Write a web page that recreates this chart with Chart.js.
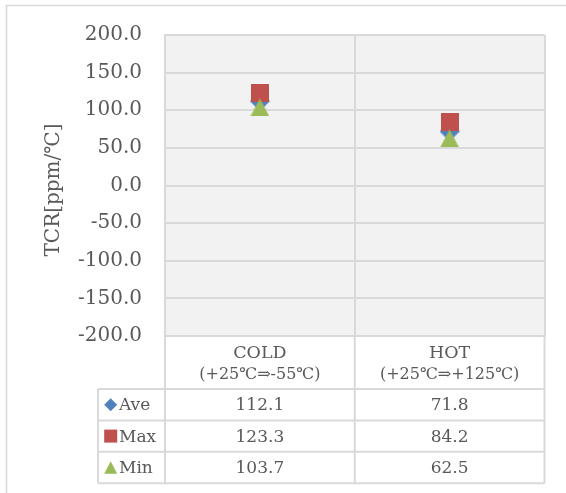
<!DOCTYPE html>
<html>
<head>
<meta charset="utf-8">
<script src="https://cdn.jsdelivr.net/npm/chart.js@4.4.1/dist/chart.umd.min.js"></script>
<style>
  html, body { margin: 0; padding: 0; background: #ffffff; }
  #wrap { width: 566px; height: 493px; overflow: hidden; }
</style>
</head>
<body>
<div id="wrap"><canvas id="chart" width="566" height="493"></canvas></div>
<script>
// Temperature coefficient of resistance per test range
const categories = ['COLD', 'HOT'];
const categoryRanges = ['(+25\u2103\u21D2-55\u2103)', '(+25\u2103\u21D2+125\u2103)'];
const seriesNames = ['Ave', 'Max', 'Min'];
const aveValues = [112.1, 71.8];
const maxValues = [123.3, 84.2];
const minValues = [103.7, 62.5];
const yMin = -200;
const yMax = 200;
const yStep = 50;
const yTitle = 'TCR[ppm/\u2103]';

const seriesColors = ['#4f81bd', '#c0504d', '#9bbb59'];
const seriesShapes = ['diamond', 'square', 'triangle'];
const seriesValues = [aveValues, maxValues, minValues];

const FONT = '"DejaVu Serif", "Liberation Serif", serif';
const TEXT = '#595959';
const LINE = '#d9d9d9';

function tracePath(ctx, shape, cx, cy, w, h) {
  ctx.beginPath();
  if (shape === 'square') {
    ctx.rect(cx - w / 2, cy - h / 2, w, h);
  } else if (shape === 'diamond') {
    ctx.moveTo(cx, cy - h / 2);
    ctx.lineTo(cx + w / 2, cy);
    ctx.lineTo(cx, cy + h / 2);
    ctx.lineTo(cx - w / 2, cy);
    ctx.closePath();
  } else {
    ctx.moveTo(cx, cy - h / 2);
    ctx.lineTo(cx + w / 2, cy + h / 2);
    ctx.lineTo(cx - w / 2, cy + h / 2);
    ctx.closePath();
  }
}

function makeMarker(shape, w, h, color) {
  const c = document.createElement('canvas');
  c.width = w;
  c.height = h;
  const g = c.getContext('2d');
  g.fillStyle = color;
  tracePath(g, shape, w / 2, h / 2, w, h);
  g.fill();
  return c;
}

const markerSizes = { diamond: [20, 20], square: [18, 18], triangle: [19, 18] };

const datasets = seriesNames.map((name, i) => {
  const [w, h] = markerSizes[seriesShapes[i]];
  return {
    label: name,
    data: seriesValues[i],
    showLine: false,
    pointStyle: makeMarker(seriesShapes[i], w, h, seriesColors[i]),
    pointBackgroundColor: seriesColors[i],
    pointBorderColor: seriesColors[i],
    order: seriesNames.length - i
  };
});

// grey plot area behind the grid
const plotBackground = {
  id: 'plotBackground',
  beforeDraw(chart) {
    const { ctx, chartArea: a } = chart;
    ctx.save();
    ctx.fillStyle = '#ffffff';
    ctx.fillRect(0, 0, chart.width, chart.height);
    ctx.strokeStyle = LINE;
    ctx.lineWidth = 1.5;
    ctx.strokeRect(6.5, 5.5, 700, 700);
    ctx.fillStyle = '#f2f2f2';
    ctx.fillRect(a.left, a.top, a.right - a.left, a.bottom - a.top);
    ctx.restore();
  }
};

// axis title and the data table under the plot
const dataTable = {
  id: 'dataTable',
  afterDraw(chart) {
    const { ctx, chartArea: a } = chart;
    const xs = chart.scales.x;
    const n = categories.length;
    const centers = categories.map((_, i) => xs.getPixelForValue(i));
    const bounds = [a.left];
    for (let i = 0; i < n - 1; i++) bounds.push((centers[i] + centers[i + 1]) / 2);
    bounds.push(a.right);

    const tableLeft = a.left - 67;
    const headerBottom = a.bottom + 53;
    const rowH = 31.4;
    const rowTops = seriesNames.map((_, i) => headerBottom + i * rowH);
    const tableBottom = headerBottom + seriesNames.length * rowH;

    ctx.save();
    // y axis title
    ctx.fillStyle = TEXT;
    ctx.font = '20px ' + FONT;
    ctx.textAlign = 'center';
    ctx.textBaseline = 'middle';
    ctx.translate(53.5, 190);
    ctx.rotate(-Math.PI / 2);
    ctx.fillText(yTitle, 0, 0);
    ctx.setTransform(1, 0, 0, 1, 0, 0);

    // grid of the table
    ctx.strokeStyle = LINE;
    ctx.lineWidth = 2;
    ctx.beginPath();
    bounds.forEach(x => { ctx.moveTo(x, a.bottom); ctx.lineTo(x, tableBottom); });
    ctx.moveTo(tableLeft, headerBottom); ctx.lineTo(tableLeft, tableBottom);
    ctx.moveTo(tableLeft, headerBottom); ctx.lineTo(a.right, headerBottom);
    ctx.moveTo(a.left, a.bottom); ctx.lineTo(a.right, a.bottom);
    rowTops.forEach(t => { ctx.moveTo(tableLeft, t + rowH); ctx.lineTo(a.right, t + rowH); });
    ctx.stroke();

    // category headers
    ctx.fillStyle = TEXT;
    ctx.textAlign = 'center';
    ctx.textBaseline = 'middle';
    categories.forEach((c, i) => {
      ctx.font = '17.5px ' + FONT;
      ctx.fillText(c, centers[i], a.bottom + 17);
      ctx.font = '16px ' + FONT;
      ctx.fillText(categoryRanges[i], centers[i], a.bottom + 39);
    });

    // series rows
    seriesNames.forEach((name, s) => {
      const cy = rowTops[s] + rowH / 2;
      ctx.fillStyle = seriesColors[s];
      const kw = 13, kh = seriesShapes[s] === 'triangle' ? 12.5 : 13;
      tracePath(ctx, seriesShapes[s], tableLeft + 12.7, cy, kw, kh);
      ctx.fill();
      ctx.fillStyle = TEXT;
      ctx.font = '17px ' + FONT;
      ctx.textAlign = 'left';
      ctx.fillText(name, tableLeft + 21, cy + 1);
      ctx.textAlign = 'center';
      seriesValues[s].forEach((v, i) => ctx.fillText(v.toFixed(1), centers[i], cy + 1));
    });
    ctx.restore();
  }
};

new Chart(document.getElementById('chart'), {
  type: 'line',
  data: { labels: categories, datasets },
  options: {
    responsive: false,
    animation: false,
    layout: { padding: { left: 0, top: 34, right: 21.5, bottom: 157 } },
    plugins: { legend: { display: false }, tooltip: { enabled: false } },
    scales: {
      x: {
        offset: true,
        grid: { color: LINE, lineWidth: 2, drawTicks: false, offset: true },
        border: { color: LINE, width: 2 },
        ticks: { display: false },
        afterFit(scale) { scale.height = 0; }
      },
      y: {
        min: yMin,
        max: yMax,
        grid: { color: LINE, lineWidth: 2, drawTicks: false },
        border: { color: LINE, width: 2 },
        ticks: {
          stepSize: yStep,
          padding: 23,
          color: TEXT,
          font: { family: FONT, size: 20 },
          callback: v => Number(v).toFixed(1)
        },
        afterFit(scale) { scale.width = 165; }
      }
    }
  },
  plugins: [plotBackground, dataTable]
});
</script>
</body>
</html>
